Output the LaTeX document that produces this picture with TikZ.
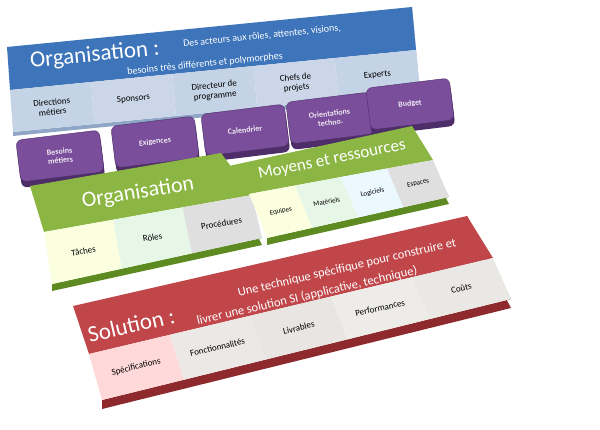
\documentclass[tikz,border=0pt]{standalone}
\usepackage{fontspec}
\setmainfont{Carlito}
\usetikzlibrary{calc}
\definecolor{bluet}{HTML}{3D74BA}
\definecolor{bluel}{HTML}{C5D3E6}
\definecolor{blued}{HTML}{8FA6C6}
\definecolor{purp}{HTML}{7A4E9A}
\definecolor{purpd}{HTML}{4E2E68}
\definecolor{greent}{HTML}{8CB643}
\definecolor{greend}{HTML}{5E8A22}
\definecolor{redt}{HTML}{C0464A}
\definecolor{redd}{HTML}{8E2A2E}
\tikzset{
 lbl/.style={font=\fontsize{9}{10}\selectfont, align=center, inner sep=0},
 ttl/.style={font=\fontsize{17}{18}\selectfont, text=white, inner sep=0},
 btn/.style={fill=purp, draw=purpd, rounded corners=6pt, minimum width=84pt, minimum height=42pt, text=white!88!purp, font=\fontsize{8}{9}\selectfont\bfseries, align=center},
}
\newcommand\slab[4]{%
 \fill[#3] (#1D) -- (#1C) -- (#1B) -- ($(#1B)+(0,#4)$) -- ($(#1C)+(0,#4)$) -- ($(#1D)+(0,#4)$) -- cycle;
 \fill[#2] (#1A) -- (#1B) -- (#1F) -- (#1E) -- cycle;
}
\newcommand\cellrow[3]{%
 \foreach \c [count=\i] in {#3} {
  \pgfmathsetmacro\ta{(\i-1)/#2}\pgfmathsetmacro\tb{\i/#2}
  \fill[\c] ($(#1E)!\ta!(#1F)$) -- ($(#1E)!\tb!(#1F)$) -- ($(#1D)!\tb!(#1C)$) -- ($(#1D)!\ta!(#1C)$) -- cycle;}
}
\begin{document}
\begin{tikzpicture}[x=1pt,y=-1pt]
\useasboundingbox (0,0) rectangle (600,430);
% ---------- blue banner
\coordinate (uA) at (7,47); \coordinate (uB) at (412,7);
\coordinate (uF) at (416,50); \coordinate (uE) at (10,90);
\coordinate (uC) at (420,92); \coordinate (uD) at (13,132);
\slab{u}{bluet}{blued}{4}
\cellrow{u}{5}{bluel,bluel!90!white,bluel,bluel!90!white,bluel}
\node[ttl,rotate=5.8,anchor=west,font=\fontsize{23}{24}\selectfont] (ot) at (30,62) {Organisation :};
\node[lbl,rotate=5.8,text=white,font=\fontsize{10}{11}\selectfont] (od1) at (262,36) {Des acteurs aux rôles, attentes, visions,};
\node[lbl,rotate=5.8,text=white,font=\fontsize{10}{11}\selectfont] (od2) at (205,64) {besoins très différents et polymorphes};
\node[lbl,rotate=5.8] (c1) at ($(uE)!0.1!(uF)!0.5!($(uD)!0.1!(uC)$)$) {Directions\\métiers};
\node[lbl,rotate=5.8] (c2) at ($(uE)!0.3!(uF)!0.5!($(uD)!0.3!(uC)$)$) {Sponsors};
\node[lbl,rotate=5.8] (c3) at ($(uE)!0.5!(uF)!0.5!($(uD)!0.5!(uC)$)$) {Directeur de\\programme};
\node[lbl,rotate=5.8] (c4) at ($(uE)!0.7!(uF)!0.5!($(uD)!0.7!(uC)$)$) {Chefs de\\projets};
\node[lbl,rotate=5.8] (c5) at ($(uE)!0.9!(uF)!0.5!($(uD)!0.9!(uC)$)$) {Experts};
% ---------- purple buttons
\foreach \n/\x/\y/\t in {p1/60/156/{Besoins\\métiers},p2/155/142/Exigences,p3/245/130/Calendrier,p4/330/118/{Orientations\\techno.},p5/410/104/Budget}{
 \node[btn,rotate=7,fill=purpd,draw=none] at (\x+1,\y+6) {};
 \node[btn,rotate=7] (\n) at (\x,\y) {\t};
}
% ---------- green Organisation
\coordinate (gA) at (30,186); \coordinate (gB) at (221,153);
\coordinate (gF) at (252,195); \coordinate (gE) at (44,232);
\coordinate (gC) at (262,238); \coordinate (gD) at (52,284);
\slab{g}{greent}{greend}{7}
\cellrow{g}{3}{green!12!yellow!12!white,cyan!10!green!10!white,gray!25!white}
\node[ttl,rotate=9.5,font=\fontsize{22}{24}\selectfont] (gt) at (138,193) {Organisation};
\node[lbl,rotate=9.5] (g1) at ($(gE)!0.17!(gF)!0.5!($(gD)!0.17!(gC)$)$) {Tâches};
\node[lbl,rotate=9.5] (g2) at ($(gE)!0.5!(gF)!0.5!($(gD)!0.5!(gC)$)$) {Rôles};
\node[lbl,rotate=9.5] (g3) at ($(gE)!0.83!(gF)!0.5!($(gD)!0.83!(gC)$)$) {Procédures};
% ---------- green Moyens
\coordinate (mA) at (229,166); \coordinate (mB) at (412,126);
\coordinate (mF) at (433,160); \coordinate (mE) at (249,194);
\coordinate (mC) at (449,197); \coordinate (mD) at (267,238);
\slab{m}{greent}{greend}{7}
\cellrow{m}{4}{green!12!yellow!12!white,cyan!10!green!10!white,cyan!8!white,gray!25!white}
\node[ttl,rotate=11.5,font=\fontsize{17}{18}\selectfont] (mt) at (332,160) {Moyens et ressources};
\node[lbl,rotate=11.5,font=\fontsize{7}{8}\selectfont] (m1) at ($(mE)!0.125!(mF)!0.5!($(mD)!0.125!(mC)$)$) {Equipes};
\node[lbl,rotate=11.5,font=\fontsize{7}{8}\selectfont] (m2) at ($(mE)!0.375!(mF)!0.5!($(mD)!0.375!(mC)$)$) {Matériels};
\node[lbl,rotate=11.5,font=\fontsize{7}{8}\selectfont] (m3) at ($(mE)!0.625!(mF)!0.5!($(mD)!0.625!(mC)$)$) {Logiciels};
\node[lbl,rotate=11.5,font=\fontsize{7}{8}\selectfont] (m4) at ($(mE)!0.875!(mF)!0.5!($(mD)!0.875!(mC)$)$) {Espaces};
% ---------- red Solution
\coordinate (rA) at (73,306); \coordinate (rB) at (467,216);
\coordinate (rF) at (493,258); \coordinate (rE) at (89,354);
\coordinate (rC) at (511,299); \coordinate (rD) at (102,400);
\slab{r}{redt}{redd}{9}
\cellrow{r}{5}{red!15!white,orange!12!gray!18!white,orange!10!gray!20!white,yellow!8!gray!18!white,yellow!8!gray!22!white}
\node[ttl,rotate=13,anchor=west,font=\fontsize{23}{24}\selectfont] (rt) at (88,335) {Solution :};
\node[lbl,rotate=13,text=white,font=\fontsize{12.5}{14}\selectfont] (rd1) at (347,268) {Une technique spécifique pour construire et};
\node[lbl,rotate=13,text=white,font=\fontsize{12.5}{14}\selectfont] (rd2) at (307,296) {livrer une solution SI (applicative, technique)};
\node[lbl,rotate=13] (r1) at ($(rE)!0.1!(rF)!0.5!($(rD)!0.1!(rC)$)$) {Spécifications};
\node[lbl,rotate=13] (r2) at ($(rE)!0.3!(rF)!0.5!($(rD)!0.3!(rC)$)$) {Fonctionnalités};
\node[lbl,rotate=13] (r3) at ($(rE)!0.5!(rF)!0.5!($(rD)!0.5!(rC)$)$) {Livrables};
\node[lbl,rotate=13] (r4) at ($(rE)!0.7!(rF)!0.5!($(rD)!0.7!(rC)$)$) {Performances};
\node[lbl,rotate=13] (r5) at ($(rE)!0.9!(rF)!0.5!($(rD)!0.9!(rC)$)$) {Coûts};
\end{tikzpicture}
\end{document}
